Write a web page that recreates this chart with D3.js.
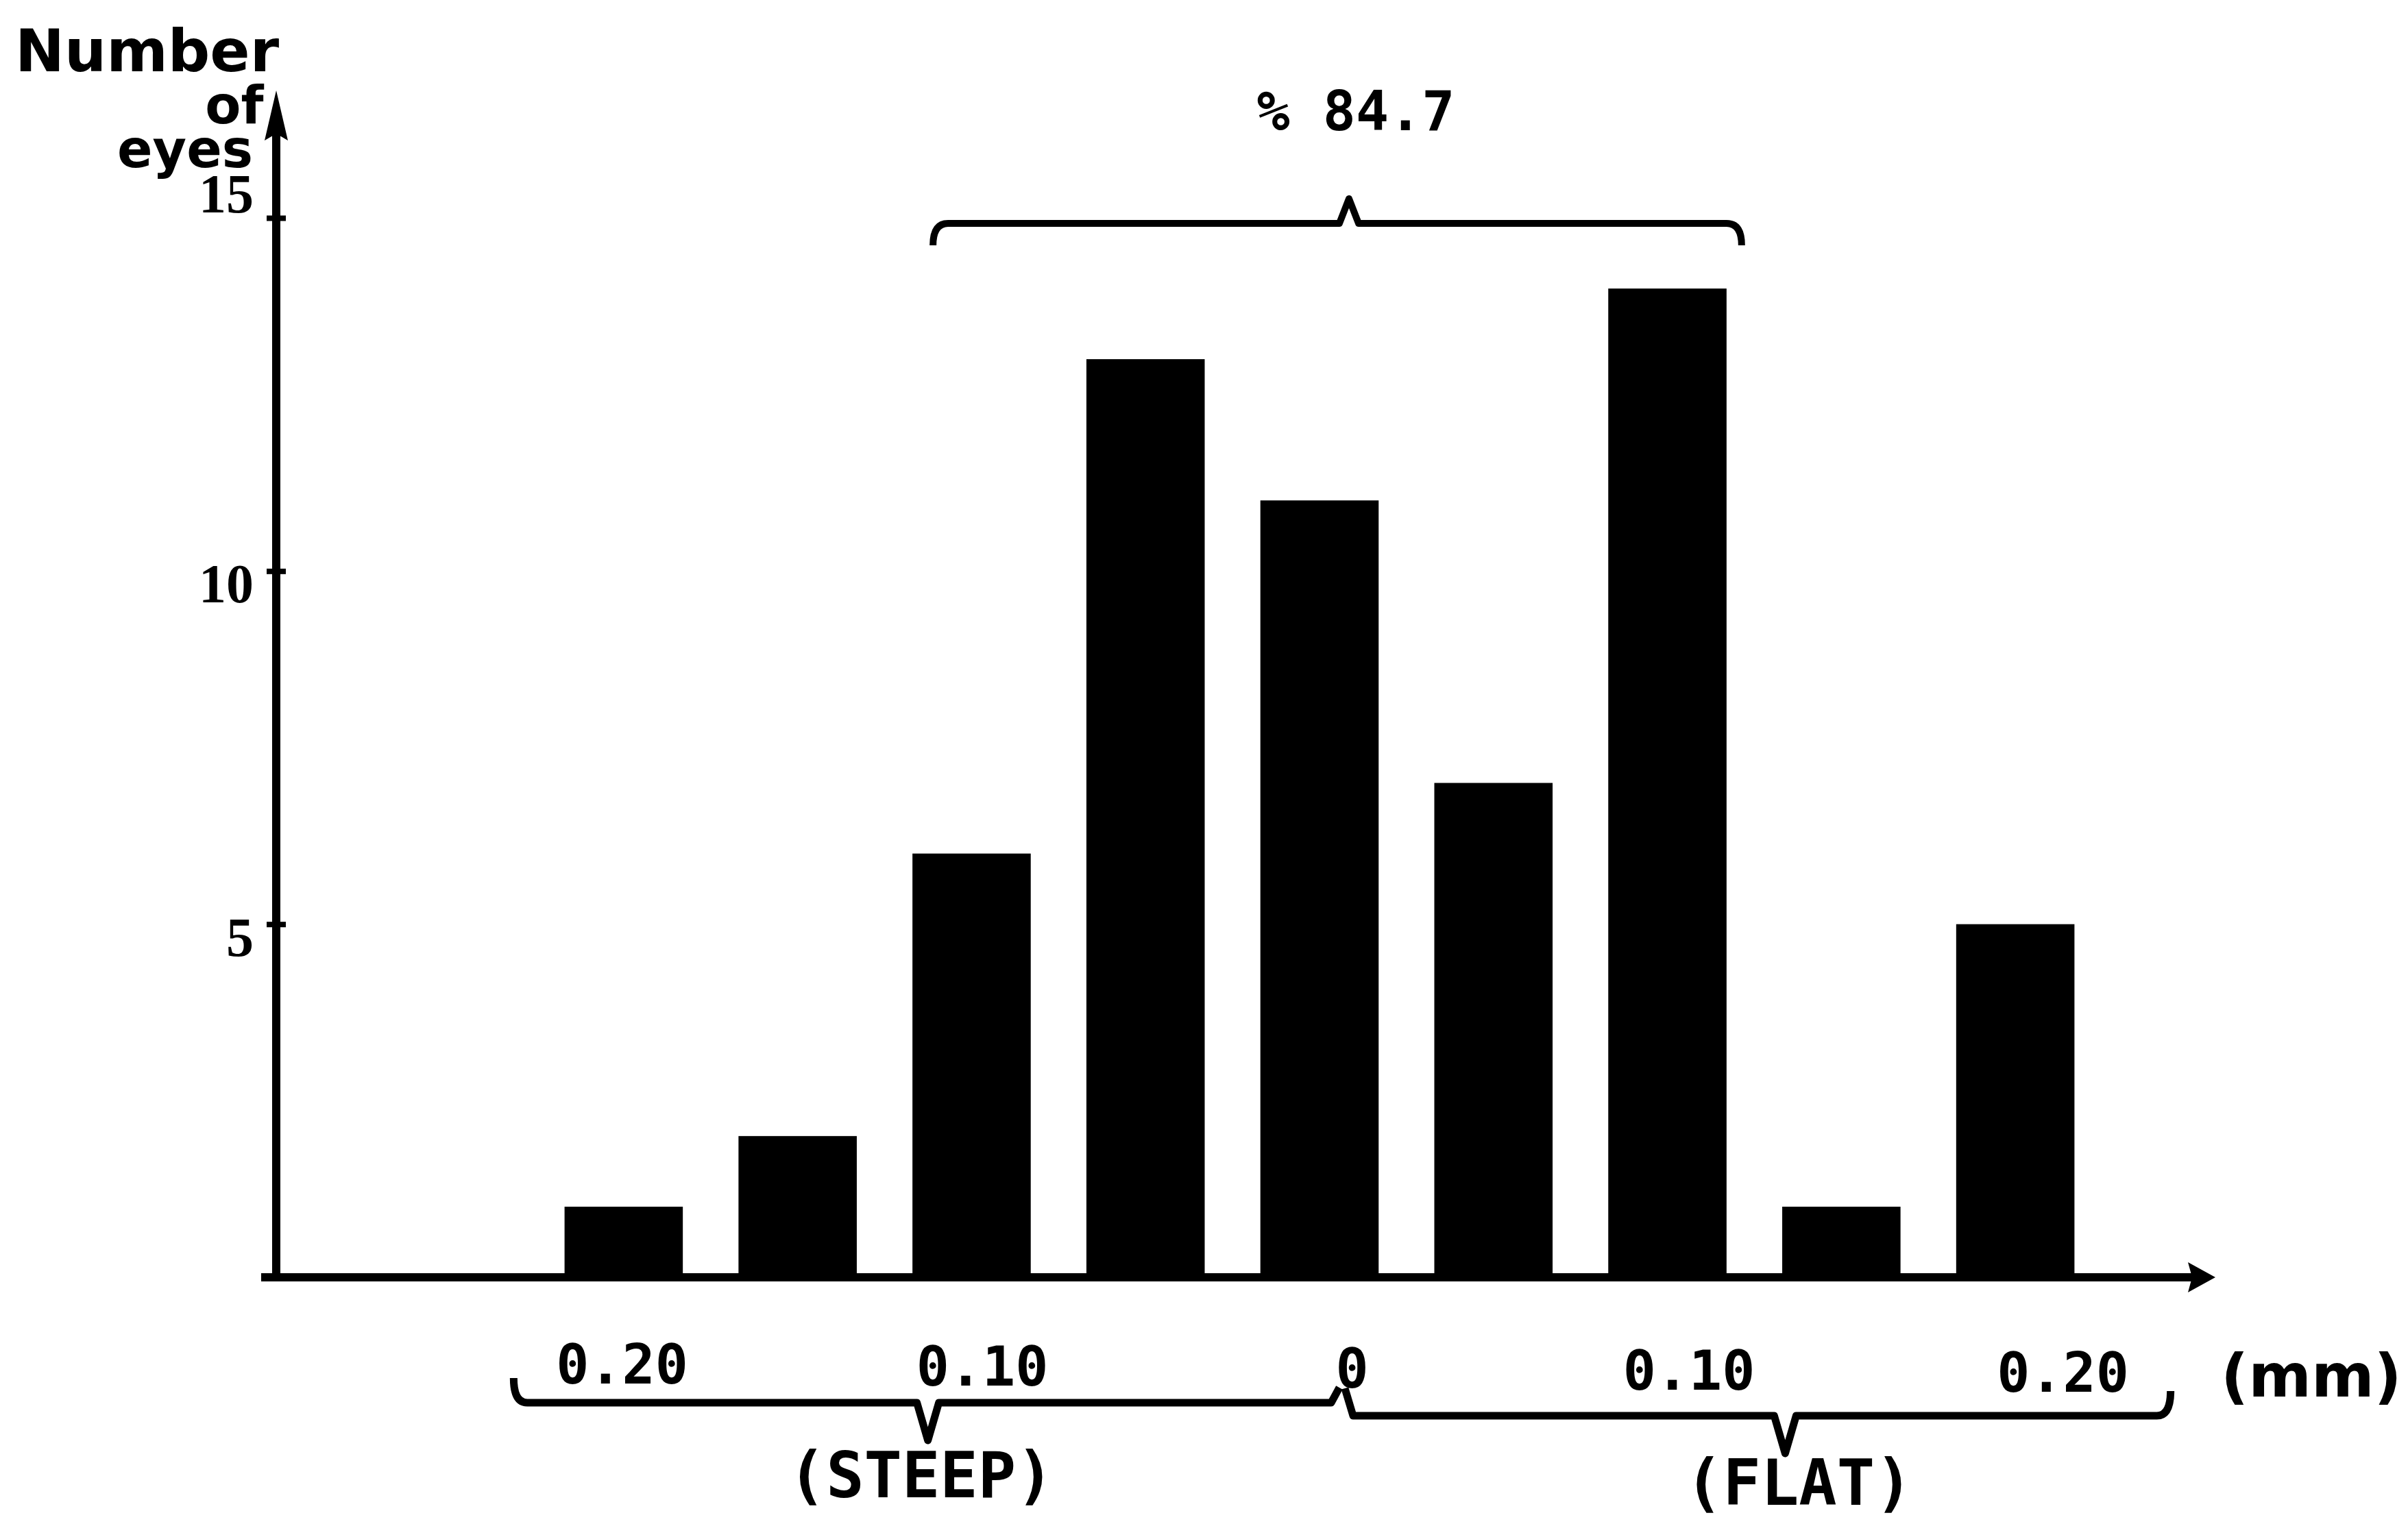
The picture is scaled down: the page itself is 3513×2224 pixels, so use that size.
<!DOCTYPE html>
<html>
<head>
<meta charset="utf-8">
<script src="https://cdn.jsdelivr.net/npm/d3@7"></script>
<style>
  html, body { margin: 0; padding: 0; background: #fff; }
  svg { display: block; }
  .mono { font-family: "DejaVu Sans Mono", monospace; font-weight: bold; }
  .sans { font-family: "DejaVu Sans", sans-serif; font-weight: bold; }
</style>
</head>
<body>
<svg id="chart" width="3513" height="2224"></svg>
<script>
// values
const categories = ['-0.20', '-0.15', '-0.10', '-0.05', '0', '0.05', '0.10', '0.15', '0.20'];
const eyes = [1, 2, 6, 13, 11, 7, 14, 1, 5];
const yTicks = [5, 10, 15];
const mmTicks = [-0.20, -0.10, 0, 0.10, 0.20];
const mmTickLabels = ['0.20', '0.10', '0', '0.10', '0.20'];
const sideLabels = ['(STEEP)', '(FLAT)'];
const rangeLabel = '% 84.7';

const svg = d3.select('#chart');
const axisX = 403;     // y axis position
const baseY = 1864;    // x axis position

const x = d3.scaleBand()
  .domain(categories)
  .range([783, 3067])
  .paddingInner(0.32)
  .paddingOuter(0.16);

const y = d3.scaleLinear()
  .domain([0, 15])
  .range([baseY, 318]);

// scale used for the mm labels and the lower braces
const mm = d3.scaleLinear()
  .domain([-0.2, 0.2])
  .range([907, 3009]);

// bars
svg.append('g')
  .selectAll('rect')
  .data(eyes)
  .enter()
  .append('rect')
  .attr('x', (d, i) => x(categories[i]))
  .attr('y', d => y(d))
  .attr('width', x.bandwidth())
  .attr('height', d => y(0) - y(d))
  .style('fill', '#000');

// x axis line with arrow
svg.append('line')
  .attr('x1', 381).attr('y1', baseY)
  .attr('x2', 3200).attr('y2', baseY)
  .style('stroke', '#000')
  .style('stroke-width', 12);
svg.append('path')
  .attr('d', `M3232,${baseY} L3192,${baseY - 22} L3198,${baseY} L3192,${baseY + 22} Z`)
  .style('fill', '#000');

// y axis line with arrow
svg.append('line')
  .attr('x1', axisX).attr('y1', baseY + 6)
  .attr('x2', axisX).attr('y2', 175)
  .style('stroke', '#000')
  .style('stroke-width', 12);
svg.append('path')
  .attr('d', `M${axisX},132 L${axisX - 17},205 L${axisX},195 L${axisX + 17},205 Z`)
  .style('fill', '#000');

// y ticks and labels
const yAxis = svg.append('g')
  .attr('transform', `translate(${axisX},0)`)
  .call(d3.axisLeft(y).tickValues(yTicks).tickSize(14).tickPadding(19));
yAxis.select('.domain').remove();
yAxis.selectAll('.tick line')
  .attr('x1', 14)
  .style('stroke', '#000')
  .style('stroke-width', 8);
yAxis.selectAll('.tick text')
  .style('font-family', '"Liberation Serif", serif')
  .style('font-weight', 'bold')
  .style('font-size', '80px')
  .style('fill', '#000')
  .attr('y', d => d === 15 ? -34 : 20);

// x labels (mm)
const xAxis = svg.append('g')
  .attr('transform', `translate(0,${baseY})`)
  .call(d3.axisBottom(mm).tickValues(mmTicks).tickSize(0)
    .tickFormat((d, i) => mmTickLabels[i]));
xAxis.select('.domain').remove();
xAxis.selectAll('.tick text')
  .attr('class', 'mono')
  .attr('x', d => d === 0 ? 14 : (d === 0.1 ? -20 : 0))
  .attr('y', (d, i) => 155 + i * 3)
  .attr('dy', 0)
  .style('font-size', '80px')
  .style('fill', '#000');

svg.append('text')
  .attr('class', 'sans')
  .attr('x', 3240).attr('y', 2038)
  .style('font-size', '88px')
  .text('(mm)');

// y axis title
const title = svg.append('g').attr('class', 'sans');
title.append('text').attr('x', 22).attr('y', 104).style('font-size', '86px').text('Number');
title.append('text').attr('x', 342).attr('y', 180).attr('text-anchor', 'middle').style('font-size', '76px').text('of');
title.append('text').attr('x', 270).attr('y', 244).attr('text-anchor', 'middle').style('font-size', '76px').text('eyes');

// top brace over the central bars
const tx0 = x(categories[2]) + 30;
const tx1 = x(categories[6]) + x.bandwidth() + 22;
const txm = mm(0) + 10;
const ty = 326;
svg.append('path')
  .attr('d', `M${tx0},${ty + 32} Q${tx0},${ty} ${tx0 + 22},${ty} L${txm - 14},${ty} L${txm},${ty - 36} L${txm + 14},${ty} L${tx1 - 22},${ty} Q${tx1},${ty} ${tx1},${ty + 32}`)
  .style('fill', 'none')
  .style('stroke', '#000')
  .style('stroke-width', 10)
  .style('stroke-linejoin', 'round');

svg.append('text')
  .attr('class', 'mono')
  .attr('x', txm + 10).attr('y', 190)
  .attr('text-anchor', 'middle')
  .style('font-size', '80px')
  .text(rangeLabel);

// lower braces: steep and flat
const braces = [
  { from: -0.23, to: 0, tip: -0.115, y: 2047, labelY: 2185 },
  { from: 0, to: 0.23, tip: 0.123, y: 2066, labelY: 2196 }
];
braces.forEach((b, i) => {
  const x0 = mm(b.from), x1 = mm(b.to), xm = mm(b.tip), by = b.y;
  const left = i === 0
    ? `M${x0},${by - 36} Q${x0},${by} ${x0 + 20},${by}`
    : `M${x0 + 4},${by - 40} L${x0 + 16},${by}`;
  const right = i === 0
    ? `L${x1 - 16},${by} L${x1 - 4},${by - 22}`
    : `L${x1 - 20},${by} Q${x1},${by} ${x1},${by - 36}`;
  svg.append('path')
    .attr('d', `${left} L${xm - 16},${by} L${xm},${by + 55} L${xm + 16},${by} ${right}`)
    .style('fill', 'none')
    .style('stroke', '#000')
    .style('stroke-width', 11)
    .style('stroke-linejoin', 'round');
  svg.append('text')
    .attr('class', 'mono')
    .attr('x', xm + (i === 0 ? -10 : 20)).attr('y', b.labelY)
    .attr('text-anchor', 'middle')
    .style('font-size', '92px')
    .text(sideLabels[i]);
});
</script>
</body>
</html>
